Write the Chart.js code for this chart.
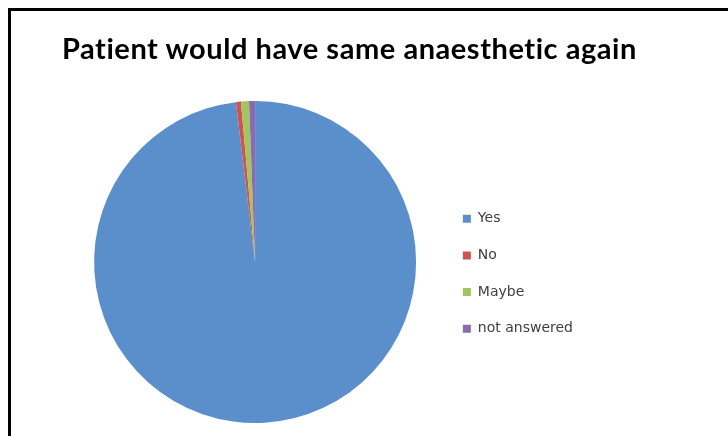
<!DOCTYPE html>
<html lang="en">
<head>
    <meta charset="UTF-8">
    <title>Patient would have same anaesthetic again</title>
    <script src="https://cdn.jsdelivr.net/npm/chart.js"></script>
    <style>
        body{
            margin: 0;
            background: #fff;
        }
        .frame{
            position: absolute;
            left: 8px;
            top: 8px;
            width: 740px;
            height: 450px;
            border-top: 3px solid #000;
            border-left: 3px solid #000;
        }
        #wrap{
            position: absolute;
            left: 0;
            top: 0;
            width: 728px;
            height: 436px;
        }
        h1{
            position: absolute;
            left: 62px;
            top: 33px;
            margin: 0;
            font-family: Lato, sans-serif;
            font-size: 29px;
            line-height: 29px;
            font-weight: bold;
            letter-spacing: 0.55px;
            color: #000;
            white-space: nowrap;
            z-index: 2;
        }
    </style>
</head>
<body>
    <div class="frame"></div>
    <h1>Patient would have same anaesthetic again</h1>
    <div id="wrap">
        <canvas id="answerPie" width="728" height="436"></canvas>
    </div>

    <script>
        // answers (percent of patients)
        const labels = ['Yes', 'No', 'Maybe', 'not answered'];
        const values = [98.1, 0.5, 0.8, 0.6];
        const colours = ['#5b8fcb', '#cd5450', '#a3c45e', '#8a6bb0'];

        const ctx = document.getElementById('answerPie').getContext('2d');
        const answerPie = new Chart(ctx, {
            type: 'pie',
            data: {
                labels: labels,
                datasets: [{
                    data: values,
                    backgroundColor: colours,
                    borderWidth: 0
                }]
            },
            options: {
                responsive: false,
                animation: false,
                layout: {
                    padding: { left: 70, right: 145, top: 101, bottom: 13 }
                },
                plugins: {
                    legend: {
                        position: 'right',
                        align: 'start',
                        title: {
                            // empty title only pushes the items down
                            display: true,
                            text: ' ',
                            font: { size: 10 },
                            padding: { top: 76, bottom: 0 }
                        },
                        labels: {
                            boxWidth: 8,
                            boxHeight: 8,
                            padding: 22.7,
                            color: '#404040',
                            font: { family: 'DejaVu Sans', size: 14 }
                        }
                    },
                    tooltip: { enabled: false }
                }
            }
        });
    </script>
</body>
</html>
